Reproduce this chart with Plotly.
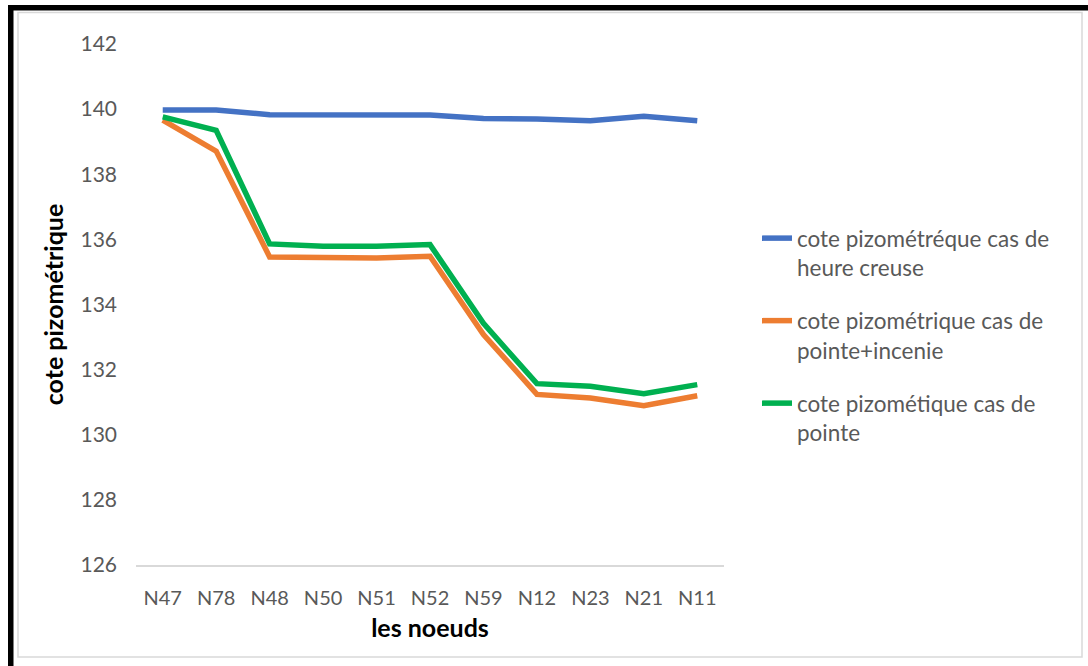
import plotly.graph_objects as go

# Node labels along the network path
noeuds = ["N47", "N78", "N48", "N50", "N51", "N52", "N59", "N12", "N23", "N21", "N11"]

# Piezometric head (m) per node for each operating case
heure_creuse = [139.97, 139.97, 139.83, 139.83, 139.82, 139.82, 139.71, 139.70, 139.64, 139.78, 139.64]
pointe_incendie = [139.66, 138.71, 135.46, 135.43, 135.43, 135.48, 133.08, 131.24, 131.13, 130.89, 131.20]
pointe = [139.76, 139.35, 135.86, 135.79, 135.79, 135.84, 133.42, 131.57, 131.49, 131.26, 131.54]

noms = [
    "cote pizométréque cas de<br>heure creuse",
    "cote pizométrique cas de<br>pointe+incenie",
    "cote pizométique cas de<br>pointe",
]
couleurs = ["#4472C4", "#ED7D31", "#00B050"]
y_ticks = [126, 128, 130, 132, 134, 136, 138, 140, 142]

W, H = 1088, 666
ML, MR, MT, MB = 136, 364, 44, 101
PW, PH = W - ML - MR, H - MT - MB

FONT = "Lato"

fig = go.Figure()
for nom, serie, c in zip(noms, [heure_creuse, pointe_incendie, pointe], couleurs):
    fig.add_trace(go.Scatter(
        x=noeuds, y=serie, mode="lines", name=nom, legendgroup=nom,
        line=dict(color=c, width=5.5, shape="linear"),
    ))


def px_x(v):
    return (v - ML) / PW


def px_y(v):
    return (H - MB - v) / PH


shapes = [
    # light grey chart-area frame
    dict(type="rect", xref="paper", yref="paper", layer="below",
         x0=px_x(18), x1=px_x(1082), y0=px_y(657), y1=px_y(12.5),
         line=dict(color="#d9d9d9", width=1.5), fillcolor="rgba(0,0,0,0)"),
    # black page frame (top and left edges)
    dict(type="rect", xref="paper", yref="paper", layer="above",
         x0=px_x(8), x1=px_x(1088), y0=px_y(10.5), y1=px_y(5),
         line=dict(width=0), fillcolor="black"),
    dict(type="rect", xref="paper", yref="paper", layer="above",
         x0=px_x(8), x1=px_x(13.5), y0=px_y(667), y1=px_y(5),
         line=dict(width=0), fillcolor="black"),
]

fig.update_layout(
    width=W, height=H,
    margin=dict(l=ML, r=MR, t=MT, b=MB, pad=0),
    paper_bgcolor="white", plot_bgcolor="white",
    font=dict(family=FONT, size=21, color="#595959"),
    showlegend=True,
    legend=dict(
        x=px_x(757), y=px_y(217), xanchor="left", yanchor="top",
        font=dict(family=FONT, size=22.5, color="#595959"),
        valign="top", tracegroupgap=21, bgcolor="rgba(0,0,0,0)",
        itemwidth=30,
    ),
    shapes=shapes,
    xaxis=dict(
        type="category", categoryorder="array", categoryarray=noeuds,
        range=[-0.5, len(noeuds) - 0.5],
        showgrid=False, zeroline=False,
        showline=True, linecolor="#d9d9d9", linewidth=1.5,
        ticks="", ticklabelstandoff=14,
        tickfont=dict(family=FONT, size=20, color="#595959"),
        title=dict(text="<b>les noeuds</b>", standoff=12,
                   font=dict(family=FONT, size=25, color="black")),
    ),
    yaxis=dict(
        range=[126, 142], tickvals=y_ticks,
        showgrid=False, zeroline=False, showline=False,
        ticks="", ticklabelstandoff=18,
        tickfont=dict(family=FONT, size=21, color="#595959"),
        title=dict(text="<b>cote pizométrique</b>", standoff=9,
                   font=dict(family=FONT, size=25, color="black")),
    ),
)

fig.write_html("out.html")
